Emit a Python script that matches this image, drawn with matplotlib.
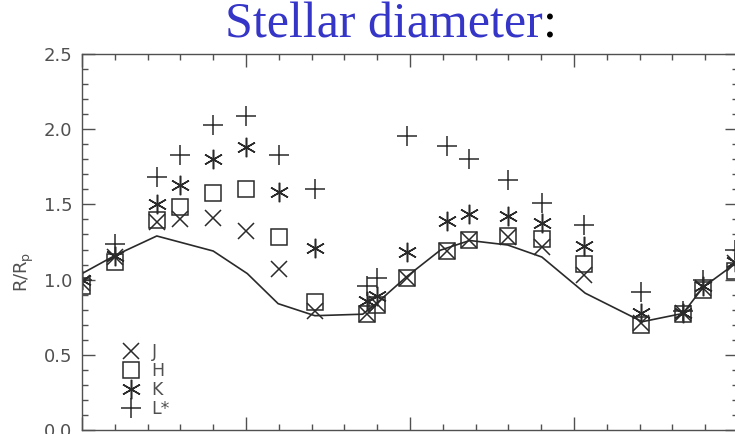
import matplotlib
matplotlib.use("Agg")
import matplotlib.pyplot as plt
import numpy as np

# phase of each observation column
phase = [0.000, 0.050, 0.114, 0.149, 0.200, 0.250, 0.300, 0.355, 0.434, 0.450,
         0.495, 0.556, 0.590, 0.649, 0.701, 0.765, 0.852, 0.916, 0.947, 0.995]

r_j = [0.98, 1.15, 1.38, 1.40, 1.41, 1.32, 1.07, 0.79, 0.77, 0.84,
       1.01, 1.19, 1.26, 1.285, 1.22, 1.03, 0.71, 0.775, 0.945, 1.11]
r_h = [0.96, 1.12, 1.395, 1.485, 1.575, 1.60, 1.28, 0.85, 0.77, 0.83,
       1.01, 1.19, 1.26, 1.29, 1.27, 1.105, 0.70, 0.77, 0.93, 1.06]
r_k = [1.00, 1.155, 1.50, 1.63, 1.80, 1.88, 1.585, 1.21, 0.855, 0.894,
       1.185, 1.39, 1.436, 1.425, 1.374, 1.225, 0.776, 0.78, 0.955, 1.117]
r_l = [1.00, 1.24, 1.685, 1.83, 2.025, 2.09, 1.83, 1.60, 0.96, 1.01,
       1.955, 1.887, 1.805, 1.664, 1.51, 1.36, 0.915, 0.79, 0.995, 1.195]

# model curve
model_phase = [0.000, 0.050, 0.114, 0.200, 0.252, 0.299, 0.355, 0.428, 0.451, 0.495,
               0.546, 0.591, 0.649, 0.701, 0.767, 0.854, 0.916, 0.947, 1.000]
model_r = [1.04, 1.16, 1.29, 1.19, 1.04, 0.84, 0.76, 0.77, 0.85, 1.02,
           1.195, 1.26, 1.23, 1.15, 0.91, 0.72, 0.775, 0.95, 1.12]

plt.rcParams["font.family"] = ["DejaVu Sans"]
plt.rcParams["mathtext.fontset"] = "dejavusans"

fig = plt.figure(figsize=(7.35, 4.34), dpi=100)
ax = fig.add_axes([82 / 735, 4 / 434, 656 / 735, 376 / 434])

ink = "#2a2a2a"
grey = "#505050"
ax.plot(model_phase, model_r, color=ink, lw=1.2, zorder=2)
ax.plot(phase, r_j, ls="none", marker="x", ms=11, mew=1.1, color=ink, label="J")
ax.plot(phase, r_h, ls="none", marker="s", ms=12, mew=1.1, mfc="none", color=ink, label="H")
ax.plot(phase, r_k, ls="none", marker=(6, 2, 0), ms=14, mew=1.1, color=ink, label="K")
ax.plot(phase, r_l, ls="none", marker="+", ms=14, mew=1.1, color=ink, label="L*")

ax.set_xlim(0, 1)
ax.set_ylim(0, 2.5)
ax.set_xticks(np.arange(0, 1.01, 0.25))
ax.set_xticks(np.arange(0, 1.01, 0.05), minor=True)
ax.set_yticks(np.arange(0, 2.51, 0.5))
ax.set_yticks(np.arange(0, 2.51, 0.1), minor=True)
ax.set_xticklabels([])
ax.set_yticklabels(["%.1f" % v for v in np.arange(0, 2.51, 0.5)])
ax.tick_params(which="both", direction="in", top=True, right=True,
               color=grey, labelsize=13, labelcolor=grey, pad=7)
ax.tick_params(which="major", length=9.5, width=1)
ax.tick_params(which="minor", length=4.5, width=1)
for s in ax.spines.values():
    s.set_color(grey)
    s.set_linewidth(1)

ax.set_ylabel(r"R/R$_{\rm p}$", fontsize=13, color=grey)
ax.yaxis.set_label_coords(-0.07, 0.42)

leg = ax.legend(loc="lower left", bbox_to_anchor=(0.048, 0.008), frameon=False,
                fontsize=12.5, handlelength=1.0, handletextpad=0.7,
                labelspacing=0.07, borderpad=0, markerscale=1.0)
for t in leg.get_texts():
    t.set_color(grey)

title = fig.text(225 / 735, 397 / 434, "Stellar diameter", color="#3535c8",
                 fontsize=36, family="Liberation Serif", ha="left", va="baseline")
fig.canvas.draw()
bb = title.get_window_extent()
fig.text(bb.x1 / 735, 397 / 434, ":", color="black",
         fontsize=36, family="Liberation Serif", ha="left", va="baseline")

fig.savefig("out.png", dpi=100)
